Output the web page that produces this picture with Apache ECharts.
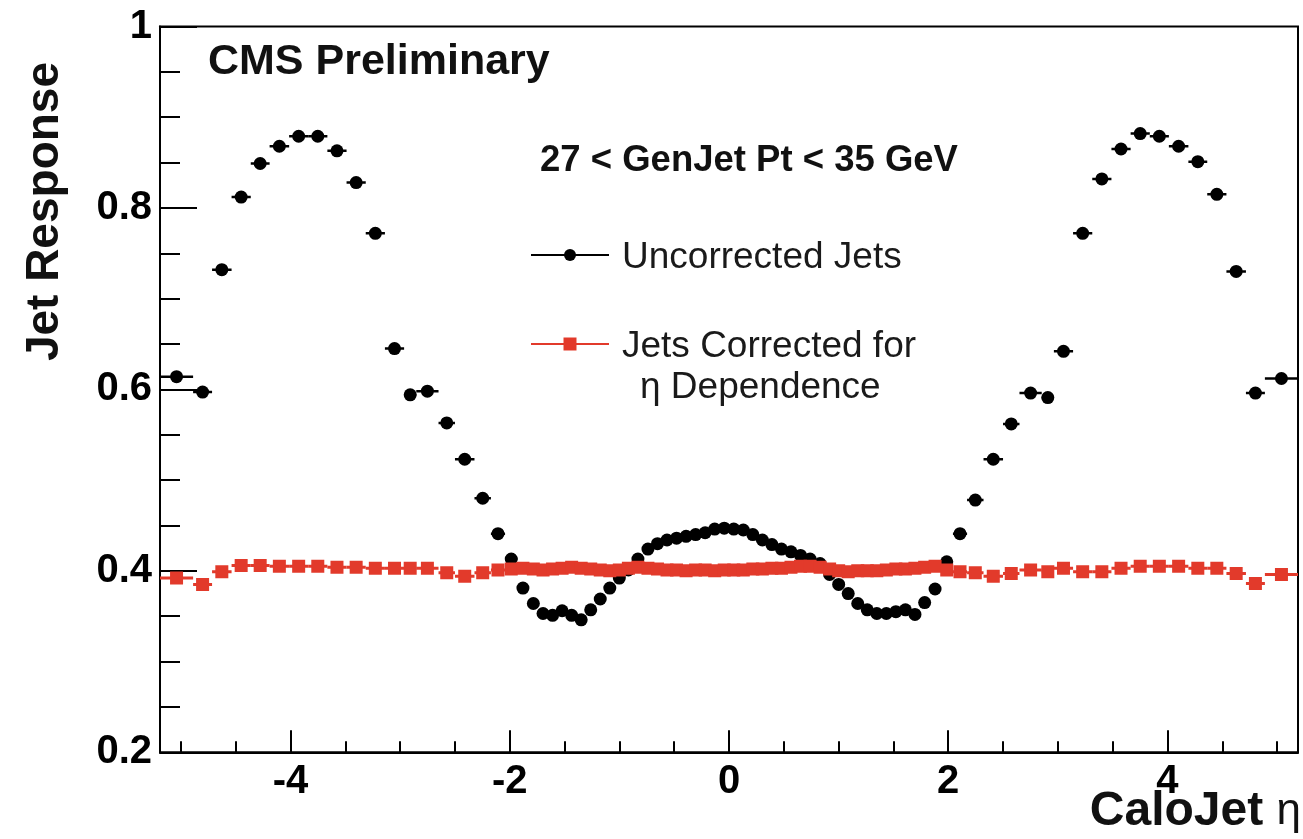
<!DOCTYPE html>
<html>
<head>
<meta charset="utf-8">
<title>Jet Response vs CaloJet eta</title>
<script src="https://cdn.jsdelivr.net/npm/echarts@6/dist/echarts.min.js"></script>
<style>
  html, body { margin: 0; padding: 0; background: #fff; }
  #chart { width: 1303px; height: 839px; }
</style>
</head>
<body>
<div id="chart"></div>
<script>
// CaloTower eta bin edges (82 bins)
const etaEdges = [
  -5.191, -4.889, -4.716, -4.538, -4.363, -4.191, -4.013, -3.839, -3.664, -3.489, -3.314, -3.139,
  -2.964, -2.853, -2.650, -2.500, -2.322, -2.172, -2.043, -1.930, -1.830, -1.740, -1.653, -1.566,
  -1.479, -1.392, -1.305, -1.218, -1.131, -1.044, -0.957, -0.879, -0.783, -0.696, -0.609, -0.522,
  -0.435, -0.348, -0.261, -0.174, -0.087, 0,
  0.087, 0.174, 0.261, 0.348, 0.435, 0.522, 0.609, 0.696, 0.783, 0.879, 0.957, 1.044,
  1.131, 1.218, 1.305, 1.392, 1.479, 1.566, 1.653, 1.740, 1.830, 1.930, 2.043, 2.172,
  2.322, 2.500, 2.650, 2.853, 2.964, 3.139, 3.314, 3.489, 3.664, 3.839, 4.013, 4.191,
  4.363, 4.538, 4.716, 4.889, 5.191
];

// Mean response per eta bin, uncorrected jets
const uncorrectedResponse = [
  0.614, 0.597, 0.732, 0.812, 0.849, 0.868, 0.879, 0.879, 0.863, 0.828, 0.772, 0.645,
  0.594, 0.598, 0.563, 0.523, 0.480, 0.441, 0.413, 0.381, 0.364, 0.353, 0.351, 0.356,
  0.351, 0.346, 0.357, 0.369, 0.381, 0.392, 0.401, 0.413, 0.424, 0.430, 0.434, 0.436,
  0.438, 0.440, 0.442, 0.446, 0.447,
  0.446, 0.445, 0.440, 0.434, 0.429, 0.424, 0.421, 0.417, 0.413, 0.408, 0.396, 0.385,
  0.375, 0.364, 0.357, 0.353, 0.353, 0.355, 0.357, 0.352, 0.365, 0.380, 0.410, 0.441,
  0.478, 0.523, 0.562, 0.596, 0.591, 0.642, 0.772, 0.832, 0.865, 0.882, 0.879, 0.868,
  0.851, 0.815, 0.730, 0.596, 0.612
];

// Mean response per eta bin after the eta-dependent correction
const correctedResponse = [
  0.392, 0.385, 0.399, 0.406, 0.406, 0.405, 0.405, 0.405, 0.404, 0.404, 0.403, 0.403,
  0.403, 0.403, 0.398, 0.394, 0.398, 0.401, 0.402, 0.403, 0.402, 0.401, 0.402, 0.403,
  0.404, 0.403, 0.402, 0.401, 0.400, 0.401, 0.403, 0.404, 0.403, 0.402, 0.401, 0.401,
  0.400, 0.401, 0.401, 0.400, 0.401,
  0.401, 0.401, 0.402, 0.402, 0.403, 0.403, 0.404, 0.405, 0.405, 0.404, 0.402, 0.400,
  0.399, 0.400, 0.400, 0.400, 0.401, 0.402, 0.402, 0.403, 0.404, 0.405, 0.401, 0.399,
  0.398, 0.394, 0.397, 0.401, 0.399, 0.403, 0.399, 0.399, 0.403, 0.405, 0.405, 0.405,
  0.403, 0.403, 0.397, 0.386, 0.396
];

const xMajorTicks = [-4, -2, 0, 2, 4];
const xMinorTicks = [-5, -4.5, -4, -3.5, -3, -2.5, -2, -1.5, -1, -0.5, 0, 0.5, 1, 1.5, 2, 2.5, 3, 3.5, 4, 4.5, 5];

const FONT = '"Liberation Sans", Arial, Helvetica, sans-serif';
const BLACK = '#000000';
const RED = '#e23a2b';

// [bin centre, response, bin low edge, bin high edge]
function binned(values) {
  return values.map((v, i) => {
    const lo = etaEdges[i], hi = etaEdges[i + 1];
    return [(lo + hi) / 2, v, lo, hi];
  });
}

// Marker with a horizontal bar spanning the bin width
function makeRenderer(shape, color, size, barWidth) {
  return function (params, api) {
    const y = api.value(1);
    const p = api.coord([api.value(0), y]);
    const pl = api.coord([api.value(2), y]);
    const ph = api.coord([api.value(3), y]);
    const children = [{
      type: 'line',
      shape: { x1: pl[0], y1: pl[1], x2: ph[0], y2: ph[1] },
      style: { stroke: color, lineWidth: barWidth }
    }];
    if (shape === 'circle') {
      children.push({ type: 'circle', shape: { cx: p[0], cy: p[1], r: size / 2 }, style: { fill: color } });
    } else {
      children.push({ type: 'rect', shape: { x: p[0] - size / 2, y: p[1] - size / 2, width: size, height: size }, style: { fill: color } });
    }
    return { type: 'group', children: children };
  };
}

const chart = echarts.init(document.getElementById('chart'), null, { renderer: 'canvas' });

const axisLineStyle = { color: BLACK, width: 2 };

const option = {
  animation: false,
  backgroundColor: '#ffffff',
  grid: {
    left: 160, right: 5, top: 26.5, bottom: 86.7,
    show: true, borderColor: BLACK, borderWidth: 2, backgroundColor: 'transparent'
  },
  xAxis: [
    {
      type: 'value', min: -5.191, max: 5.191, position: 'bottom',
      axisLine: { show: true, onZero: false, lineStyle: axisLineStyle },
      splitLine: { show: false },
      axisTick: { show: true, inside: true, length: 22, lineStyle: axisLineStyle, customValues: xMajorTicks },
      axisLabel: {
        show: true, customValues: xMajorTicks, margin: 10,
        fontSize: 40, fontWeight: 'bold', color: BLACK, fontFamily: FONT
      }
    },
    {
      type: 'value', min: -5.191, max: 5.191, position: 'bottom',
      axisLine: { show: false, onZero: false },
      splitLine: { show: false },
      axisLabel: { show: false },
      axisTick: { show: true, inside: true, length: 11, lineStyle: axisLineStyle, customValues: xMinorTicks }
    }
  ],
  yAxis: {
    type: 'value', min: 0.2, max: 1.0, interval: 0.2,
    axisLine: { show: true, onZero: false, lineStyle: axisLineStyle },
    splitLine: { show: false },
    axisTick: { show: true, inside: true, length: 37, lineStyle: axisLineStyle },
    minorTick: { show: true, splitNumber: 4, length: 20, lineStyle: axisLineStyle },
    minorSplitLine: { show: false },
    axisLabel: { margin: 8, fontSize: 40, fontWeight: 'bold', color: BLACK, fontFamily: FONT }
  },
  series: [
    {
      name: 'Uncorrected Jets', type: 'custom', xAxisIndex: 0, yAxisIndex: 0,
      renderItem: makeRenderer('circle', BLACK, 13, 2.5),
      encode: { x: 0, y: 1 },
      data: binned(uncorrectedResponse),
      clip: true, z: 2
    },
    {
      name: 'Jets Corrected for η Dependence', type: 'custom', xAxisIndex: 0, yAxisIndex: 0,
      renderItem: makeRenderer('square', RED, 13, 3),
      encode: { x: 0, y: 1 },
      data: binned(correctedResponse),
      clip: true, z: 3
    }
  ],
  graphic: [
    { type: 'text', x: 208, y: 62, style: { text: 'CMS Preliminary', font: 'bold 43px ' + FONT, fill: '#111', textAlign: 'left', textVerticalAlign: 'middle' } },
    { type: 'text', x: 540, y: 161, style: { text: '27 < GenJet Pt < 35 GeV', font: 'bold 36.5px ' + FONT, fill: '#111', textAlign: 'left', textVerticalAlign: 'middle' } },
    // legend: uncorrected
    { type: 'line', shape: { x1: 531, y1: 255, x2: 609, y2: 255 }, style: { stroke: BLACK, lineWidth: 2 } },
    { type: 'circle', shape: { cx: 570, cy: 255, r: 6 }, style: { fill: BLACK } },
    { type: 'text', x: 622, y: 258, style: { text: 'Uncorrected Jets', font: '37px ' + FONT, fill: '#1a1a1a', textAlign: 'left', textVerticalAlign: 'middle' } },
    // legend: corrected
    { type: 'line', shape: { x1: 531, y1: 344, x2: 609, y2: 344 }, style: { stroke: RED, lineWidth: 2 } },
    { type: 'rect', shape: { x: 563.5, y: 337.5, width: 13, height: 13 }, style: { fill: RED } },
    { type: 'text', x: 622, y: 347, style: { text: 'Jets Corrected for', font: '37px ' + FONT, fill: '#1a1a1a', textAlign: 'left', textVerticalAlign: 'middle' } },
    { type: 'text', x: 640, y: 388, style: { text: 'η Dependence', font: '37px ' + FONT, fill: '#1a1a1a', textAlign: 'left', textVerticalAlign: 'middle' } },
    // axis titles
    { type: 'text', x: 45, y: 62, rotation: Math.PI / 2, style: { text: 'Jet Response', font: 'bold 46px ' + FONT, fill: '#111', textAlign: 'right', textVerticalAlign: 'middle' } },
    {
      type: 'text', x: 1301, y: 812,
      style: {
        text: '{b|CaloJet }{e|η}', textAlign: 'right', textVerticalAlign: 'middle',
        rich: {
          b: { font: 'bold 48px ' + FONT, fill: '#111' },
          e: { font: '44px ' + FONT, fill: '#111' }
        }
      }
    }
  ]
};

chart.setOption(option);
</script>
</body>
</html>
